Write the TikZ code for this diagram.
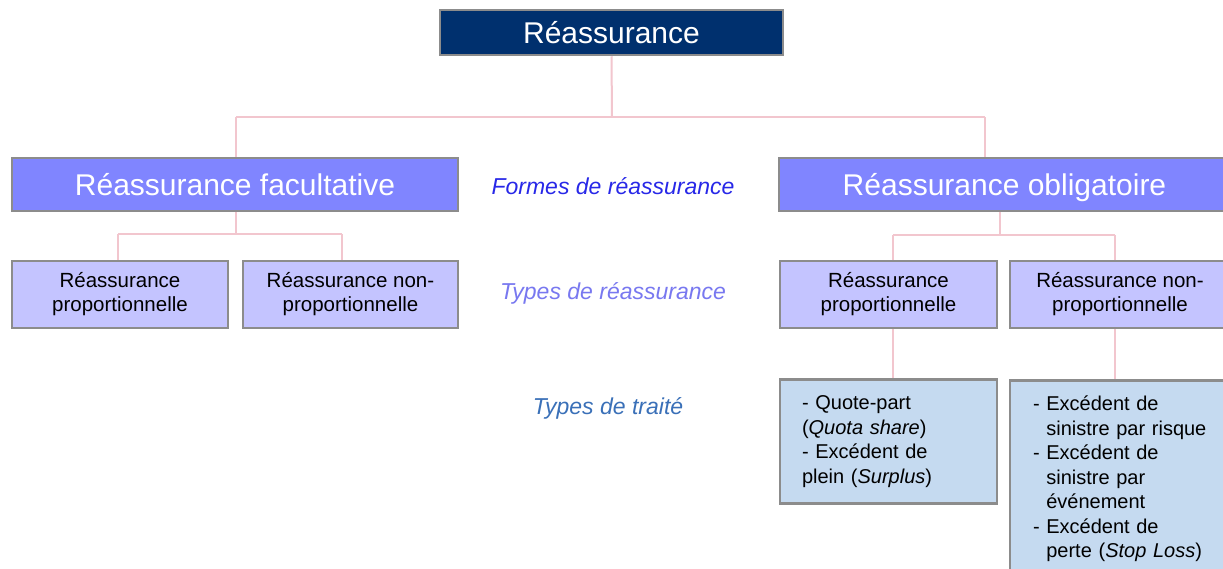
\documentclass[tikz,border=0pt]{standalone}
\usepackage{fontspec}
\setmainfont{Liberation Sans}
\definecolor{navy}{HTML}{00306E}
\definecolor{formfill}{HTML}{8085FF}
\definecolor{typefill}{HTML}{C4C4FF}
\definecolor{traitefill}{HTML}{C5DAF0}
\definecolor{boxborder}{HTML}{8C8C8C}
\definecolor{linkpink}{HTML}{F2C6CE}
\definecolor{lblformes}{HTML}{2828E8}
\definecolor{lbltypes}{HTML}{7878F0}
\definecolor{lbltraite}{HTML}{3A70B8}
\tikzset{
  basebox/.style={draw=boxborder, line width=2.5pt, inner sep=0pt},
  topbox/.style={basebox, fill=navy, text=white, font=\fontsize{30}{36}\selectfont, text height=22pt, text depth=0pt},
  formbox/.style={basebox, fill=formfill, text=white, font=\fontsize{30}{36}\selectfont, text height=22pt, text depth=0pt},
  typebox/.style={basebox, fill=typefill, text=black, align=center, font=\fontsize{20.5}{24}\selectfont},
  traitebox/.style={basebox, fill=traitefill, text=black, align=left, font=\fontsize{20}{24.5}\selectfont},
  link/.style={draw=linkpink, line width=2pt},
  rowlabel/.style={font=\itshape\fontsize{23}{28}\selectfont},
}
\begin{document}
\begin{tikzpicture}[x=1pt,y=-1pt]
\useasboundingbox (0,0) rectangle (1223,568);
\clip (0,0) rectangle (1223,568);
\fill[white] (0,0) rectangle (1223,568);

% junction coordinates
\coordinate (j0) at (612,117);
\coordinate (jL) at (236,117);
\coordinate (jR) at (985,117);
\coordinate (kL) at (236,234);
\coordinate (kL1) at (118,234);
\coordinate (kL2) at (342,234);
\coordinate (kR) at (1000,235);
\coordinate (kR1) at (893,235);
\coordinate (kR2) at (1115,235);

% nodes
\node[topbox, minimum width=343pt, minimum height=45pt] (top) at (611.5,32.5) {Réassurance};
\node[formbox, minimum width=446pt, minimum height=53pt] (fac) at (235,184.5) {Réassurance facultative};
\node[formbox, minimum width=451pt, minimum height=53pt] (obl) at (1004.5,184.5) {Réassurance obligatoire};

\node[typebox, minimum width=216pt, minimum height=67pt] (lp) at (120,294.5) {Réassurance\\proportionnelle};
\node[typebox, minimum width=215pt, minimum height=67pt] (ln) at (350.5,294.5) {Réassurance non-\\proportionnelle};
\node[typebox, minimum width=217pt, minimum height=67pt] (rp) at (888.5,294.5) {Réassurance\\proportionnelle};
\node[typebox, minimum width=220pt, minimum height=67pt] (rn) at (1120,294.5) {Réassurance non-\\proportionnelle};

\node[traitebox, minimum width=217pt, minimum height=124pt, text width=173pt] (qp) at (888.5,441.5)
  {- Quote-part\\(\textit{Quota share})\\- Excédent de\\plein (\textit{Surplus})};
\node[traitebox, minimum width=220pt, minimum height=197pt, text width=174pt] (xs) at (1120,479)
  {- Excédent de\\\phantom{- }sinistre par risque\\- Excédent de\\\phantom{- }sinistre par\\\phantom{- }événement\\- Excédent de\\\phantom{- }perte (\textit{Stop Loss})};

% row labels
\node[rowlabel, text=lblformes] (lab1) at (613,186) {Formes de réassurance};
\node[rowlabel, text=lbltypes] (lab2) at (613,293) {Types de réassurance};
\node[rowlabel, text=lbltraite] (lab3) at (608,408) {Types de traité};

% connectors
\draw[link] (top.south) -- (j0);
\draw[link] (jL) -- (jR);
\draw[link] (jL) -- (jL |- fac.north);
\draw[link] (jR) -- (jR |- obl.north);

\draw[link] (fac.south -| kL) -- (kL);
\draw[link] (kL1) -- (kL2);
\draw[link] (kL1) -- (kL1 |- lp.north);
\draw[link] (kL2) -- (kL2 |- ln.north);

\draw[link] (obl.south -| kR) -- (kR);
\draw[link] (kR1) -- (kR2);
\draw[link] (kR1) -- (kR1 |- rp.north);
\draw[link] (kR2) -- (kR2 |- rn.north);

\draw[link] (rp.south -| kR1) -- (kR1 |- qp.north);
\draw[link] (rn.south -| kR2) -- (kR2 |- xs.north);
\end{tikzpicture}
\end{document}
